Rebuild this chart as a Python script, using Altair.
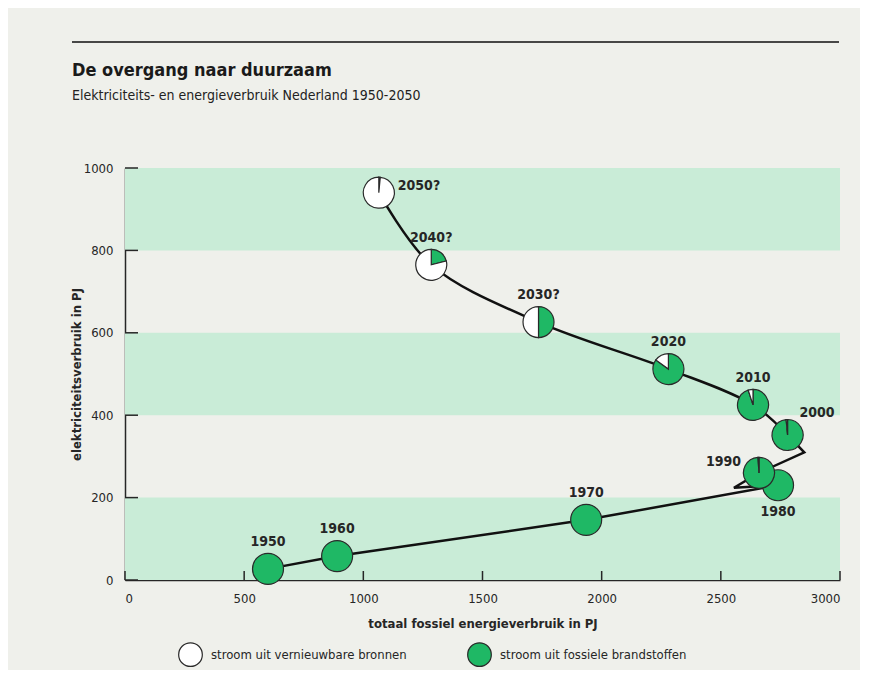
import altair as alt
import pandas as pd

# ---- data ----
years = ["1950", "1960", "1970", "1980", "1990", "2000", "2010", "2020", "2030?", "2040?", "2050?"]
fossil_pj = [600, 890, 1935, 2740, 2660, 2780, 2635, 2280, 1735, 1285, 1065]
elec_pj = [27, 58, 146, 230, 260, 352, 425, 512, 626, 765, 940]
fossil_share = [1.0, 1.0, 1.0, 1.0, 0.99, 0.985, 0.95, 0.85, 0.5, 0.21, 0.015]
label_pos = ["above", "above", "above", "below", "left", "rightup", "above", "above", "above", "above", "right"]

# drawn path: lower part (with the small hook near 1980 and the corner after 1990)
low_x = [600, 890, 1935, 2740, 2555, 2660, 2850, 2780]
low_y = [27, 58, 146, 230, 224, 260, 310, 352]
# upper, curved part
up_x = [2780, 2635, 2280, 1735, 1285, 1065]
up_y = [352, 425, 512, 626, 765, 940]

band_lo = [0, 400, 800]
band_hi = [200, 600, 1000]

x_ticks = [0, 500, 1000, 1500, 2000, 2500, 3000]
y_ticks = [0, 200, 400, 600, 800, 1000]

title_text = "De overgang naar duurzaam"
subtitle_text = "Elektriciteits- en energieverbruik Nederland 1950-2050"
kind_ren = "stroom uit vernieuwbare bronnen"
kind_fos = "stroom uit fossiele brandstoffen"

FONT = "DejaVu Sans Condensed, Roboto, sans-serif"
GREEN = "#1fb865"
BAND = "#c9ecd7"
BG = "#eff0eb"
INK = "#262626"

pts = pd.DataFrame({"year": years, "x": fossil_pj, "y": elec_pj,
                    "share": fossil_share, "pos": label_pos})
rows = []
for yr, x, y, s in zip(years, fossil_pj, elec_pj, fossil_share):
    rows.append({"year": yr, "x": x, "y": y, "kind": kind_fos, "t0": 0.0, "t1": s})
    rows.append({"year": yr, "x": x, "y": y, "kind": kind_ren, "t0": s, "t1": 1.0})
arcs = pd.DataFrame(rows)
low = pd.DataFrame({"x": low_x, "y": low_y, "i": list(range(len(low_x)))})
up = pd.DataFrame({"x": up_x, "y": up_y, "i": list(range(len(up_x)))})
bands = pd.DataFrame({"lo": band_lo, "hi": band_hi})
xt = pd.DataFrame({"v": x_ticks})
yt = pd.DataFrame({"v": y_ticks})
titles = pd.DataFrame({"t": [title_text]})
subs = pd.DataFrame({"t": [subtitle_text]})

W, H = 715, 412
xs = alt.Scale(domain=[0, 3000], nice=False)
ys = alt.Scale(domain=[0, 1000], nice=False)

band_layer = alt.Chart(bands).mark_rect(color=BAND).encode(
    x=alt.value(0), x2=alt.value(W),
    y=alt.Y("lo:Q", scale=ys, axis=alt.Axis(
        title="elektriciteitsverbruik in PJ", values=y_ticks, tickSize=0, format="d",
        labelPadding=12, titlePadding=0, domain=True, grid=False)),
    y2="hi:Q",
)

xaxis_layer = alt.Chart(xt).mark_point(opacity=0).encode(
    x=alt.X("v:Q", scale=xs, axis=alt.Axis(
        title="totaal fossiel energieverbruik in PJ", values=x_ticks, tickSize=0, format="d",
        labelPadding=12, titlePadding=12, grid=False)),
)

xtick_layer = alt.Chart(xt).mark_rule(color=INK, strokeWidth=1.5).encode(
    x=alt.X("v:Q", scale=xs), y=alt.value(H), y2=alt.value(H - 9))
ytick_layer = alt.Chart(yt).mark_rule(color=INK, strokeWidth=1.5).encode(
    y=alt.Y("v:Q", scale=ys), x=alt.value(0), x2=alt.value(13))

low_line = alt.Chart(low).mark_line(
    color="#111111", strokeWidth=2.5, interpolate="linear").encode(
    x=alt.X("x:Q", scale=xs), y=alt.Y("y:Q", scale=ys), order="i:Q")
up_line = alt.Chart(up).mark_line(
    color="#111111", strokeWidth=2.5, interpolate="catmull-rom").encode(
    x=alt.X("x:Q", scale=xs), y=alt.Y("y:Q", scale=ys), order="i:Q")

arc_layer = alt.Chart(arcs).transform_filter("datum.t1 > datum.t0").mark_arc(
    radius=15.5, stroke="#2a2a2a", strokeWidth=1.2).encode(
    x=alt.X("x:Q", scale=xs), y=alt.Y("y:Q", scale=ys),
    theta=alt.Theta("t0:Q", scale=alt.Scale(domain=[0, 1], range=[0, 6.28319])),
    theta2="t1:Q",
    fill=alt.Fill("kind:N", scale=alt.Scale(domain=[kind_ren, kind_fos], range=["#ffffff", GREEN]),
                  legend=alt.Legend(title=None, orient="none", legendX=53, legendY=474,
                                    direction="horizontal", symbolType="circle",
                                    symbolSize=560, symbolStrokeColor="#2a2a2a",
                                    symbolStrokeWidth=1.2, labelFont=FONT, labelFontSize=13,
                                    labelColor=INK, labelOffset=8, columnPadding=58,
                                    labelLimit=0, symbolOpacity=1)),
)

def lbl(pos, **kw):
    return alt.Chart(pts).transform_filter(alt.datum.pos == pos).mark_text(
        font=FONT, fontSize=14, fontWeight="bold", color=INK, **kw).encode(
        x=alt.X("x:Q", scale=xs), y=alt.Y("y:Q", scale=ys), text="year:N")

labels = [
    lbl("above", dy=-27),
    lbl("below", dy=27),
    lbl("left", dx=-18, dy=-11, align="right"),
    lbl("rightup", dx=12, dy=-22, align="left"),
    lbl("right", dx=19, dy=-7, align="left"),
]

top_rule = alt.Chart(bands).mark_rule(color="#444444", strokeWidth=1.3).encode(
    x=alt.value(-53), x2=alt.value(714), y=alt.value(-126))
title_layer = alt.Chart(titles).mark_text(
    font=FONT, fontSize=18, fontWeight="bold", color="#1a1a1a", align="left",
    baseline="alphabetic").encode(x=alt.value(-53), y=alt.value(-92), text="t:N")
sub_layer = alt.Chart(subs).mark_text(
    font=FONT, fontSize=14, color="#222222", align="left",
    baseline="alphabetic").encode(x=alt.value(-53), y=alt.value(-68), text="t:N")

chart = alt.layer(band_layer, xaxis_layer, top_rule, title_layer, sub_layer,
                  xtick_layer, ytick_layer, low_line, up_line, arc_layer,
                  *labels).properties(
    width=W, height=H,
    autosize=alt.AutoSizeParams(type="none"),
    padding={"left": 117, "top": 160, "right": 20, "bottom": 90},
    background=BG,
).configure_view(stroke=None).configure_axis(
    labelFont=FONT, labelFontSize=13, labelColor=INK,
    titleFont=FONT, titleFontSize=13, titleFontWeight="bold", titleColor=INK,
    domainColor=INK, domainWidth=1.5,
)

chart.save("out.html", embed_options={"renderer": "svg", "actions": False})
